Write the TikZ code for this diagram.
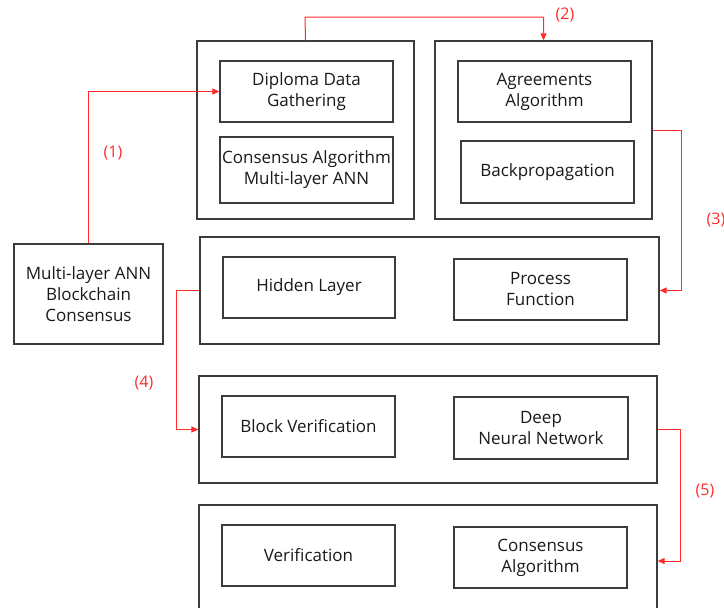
\documentclass[tikz,border=0pt]{standalone}
\usepackage{fontspec}
\setmainfont{Open Sans}
\usetikzlibrary{arrows.meta}
\definecolor{boxline}{HTML}{3C3C3C}
\definecolor{txt}{HTML}{1A1A1A}
\definecolor{flow}{HTML}{FF2A2A}
\tikzset{
  frame/.style={draw=boxline, line width=1.3pt, fill=white, inner sep=0pt},
  item/.style={draw=boxline, line width=1.2pt, inner sep=0pt, align=center,
    text=txt, font=\fontsize{17}{21}\selectfont},
  link/.style={draw=flow, line width=1pt, -{Triangle[length=7pt,width=6pt]}},
  tag/.style={text=flow, font=\fontsize{16}{18}\selectfont, inner sep=0pt}
}
\begin{document}
\begin{tikzpicture}[x=1pt, y=-1pt]
\useasboundingbox (0,0) rectangle (724,608);
\clip (0,0) rectangle (724,608);

% upper pair of frames
\node[frame, minimum width=217, minimum height=178] (A) at (305.5,130) {};
\node[frame, minimum width=217, minimum height=178] (B) at (543.5,130) {};
\node[item, minimum width=173, minimum height=61] (D) at (306.5,91.5) {Diploma Data\\Gathering};
\node[item, minimum width=173, minimum height=66] (CM) at (306.5,170) {Consensus Algorithm\\Multi-layer ANN};
\node[item, minimum width=173, minimum height=61] (AG) at (544.5,91.5) {Agreements\\Algorithm};
\node[item, minimum width=173, minimum height=62] (BP) at (547.5,172) {Backpropagation};

% source box on the left
\node[item, minimum width=149, minimum height=100] (L) at (88.5,294) {Multi-layer ANN\\Blockchain\\Consensus};

% third row
\node[frame, minimum width=459, minimum height=107] (R3) at (429.5,290.5) {};
\node[item, minimum width=172, minimum height=61] (HL) at (309,287.5) {Hidden Layer};
\node[item, minimum width=173, minimum height=61] (PF) at (540.5,289.5) {Process\\Function};

% fourth row
\node[frame, minimum width=458, minimum height=107] (R4) at (428,429.5) {};
\node[item, minimum width=173, minimum height=61] (BV) at (308.5,426.5) {Block Verification};
\node[item, minimum width=174, minimum height=62] (DN) at (541,428) {Deep\\Neural Network};

% fifth row (runs past the lower edge)
\node[frame, minimum width=458, minimum height=112] (R5) at (428,561) {};
\node[item, minimum width=173, minimum height=61] (VF) at (308.5,555.5) {Verification};
\node[item, minimum width=173, minimum height=61] (CA) at (540.5,557.5) {Consensus\\Algorithm};

% red flow connectors
\draw[link] (L.north) |- (D.west);
\coordinate (t2) at (305,17);
\draw[link] (A.north) -- (t2) -| (B.north);
\coordinate (t3) at (681,130);
\draw[link] (B.east) -- (t3) |- (R3.east);
\draw[link] (R3.west) -- ++(-23,0) |- (R4.west);
\draw[link] (R4.east) -- ++(23,0) |- (R5.east);

% step labels
\node[tag] (n1) at (113,153) {(1)};
\node[tag] (n2) at (565,15) {(2)};
\node[tag] (n3) at (716,220) {(3)};
\node[tag] (n4) at (144,383) {(4)};
\node[tag] (n5) at (705,491) {(5)};
\end{tikzpicture}
\end{document}
